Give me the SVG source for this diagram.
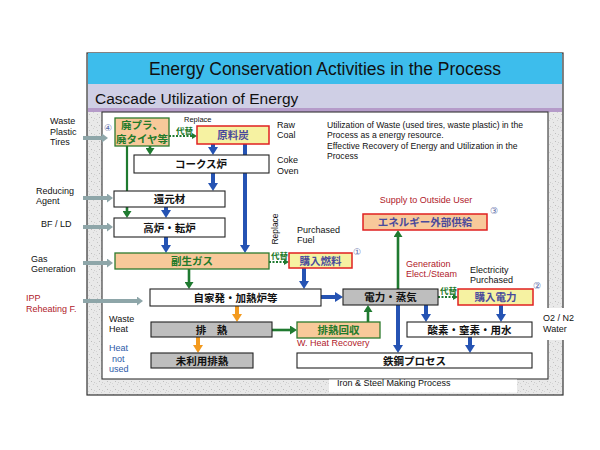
<svg xmlns="http://www.w3.org/2000/svg" width="600" height="450" viewBox="0 0 600 450">
<defs>
<pattern id="speckle" width="8" height="8" patternUnits="userSpaceOnUse"><rect width="8" height="8" fill="#e9e9e9"/><rect x="1" y="2" width="1" height="1" fill="#c4c4c4"/><rect x="5" y="0" width="1" height="1" fill="#d0d0d0"/><rect x="3" y="5" width="1" height="1" fill="#bdbdbd"/><rect x="6" y="6" width="1" height="1" fill="#cccccc"/><rect x="0" y="7" width="1" height="1" fill="#d5d5d5"/></pattern>
<marker id="mBlue" viewBox="0 0 8 10" refX="0" refY="5" markerWidth="8" markerHeight="10" markerUnits="userSpaceOnUse" orient="auto"><path d="M0,0 L8,5 L0,10 z" fill="#2553b3"/></marker>
<marker id="mGreen" viewBox="0 0 7 9" refX="0" refY="4.5" markerWidth="7" markerHeight="9" markerUnits="userSpaceOnUse" orient="auto"><path d="M0,0 L7,4.5 L0,9 z" fill="#1f7a30"/></marker>
<marker id="mOrange" viewBox="0 0 8 10" refX="0" refY="5" markerWidth="8" markerHeight="10" markerUnits="userSpaceOnUse" orient="auto"><path d="M0,0 L8,5 L0,10 z" fill="#f39a1e"/></marker>
<marker id="mDot" viewBox="0 0 5 6" refX="0" refY="3" markerWidth="5" markerHeight="6" markerUnits="userSpaceOnUse" orient="auto"><path d="M0,0 L5,3 L0,6 z" fill="#1f7a30"/></marker>
<marker id="mGray" viewBox="0 0 6 9" refX="0" refY="4.5" markerWidth="6" markerHeight="9" markerUnits="userSpaceOnUse" orient="auto"><path d="M0,0 L6,4.5 L0,9 z" fill="#8ea6a9"/></marker>
</defs>
<style>
.lat{font-family:"Liberation Sans",Arial,sans-serif;}
.jp{font-family:"Noto Sans CJK JP",sans-serif;font-weight:bold;font-size:10.5px;text-anchor:middle;}
.lbl{font-family:"Liberation Sans",Arial,sans-serif;font-size:9px;fill:#111;}
.red{fill:#b0202a;}
.blueT{fill:#2c5aa8;}
.num{font-family:"DejaVu Sans",sans-serif;font-size:9px;fill:#5a6aa8;}
.peach{fill:#f8c99a;stroke:#2d7a2d;stroke-width:1.3;}
.yellow{fill:#f6f2a2;stroke:#e02020;stroke-width:1.5;}
.white{fill:#fff;stroke:#222;stroke-width:1.1;}
.gray{fill:#bebebe;stroke:#222;stroke-width:1.1;}
.peachR{fill:#f8c99a;stroke:#e02020;stroke-width:1.5;}
.gT{fill:#237a2a;}
.pT{fill:#4a4a9c;}
.kT{fill:#111;}
.bl{stroke:#2553b3;stroke-width:4;fill:none;marker-end:url(#mBlue);}
.gr{stroke:#1f7a30;stroke-width:2.6;fill:none;marker-end:url(#mGreen);}
.grn{stroke:#1f7a30;stroke-width:2.2;fill:none;}
.or{stroke:#f39a1e;stroke-width:4;fill:none;marker-end:url(#mOrange);}
.dt{stroke:#1f7a30;stroke-width:2;stroke-dasharray:2 1.5;fill:none;marker-end:url(#mDot);}
.in{stroke:#8ea6a9;stroke-width:4;fill:none;marker-end:url(#mGray);}
.rep{font-family:"Noto Sans CJK JP",sans-serif;font-weight:bold;font-size:8.5px;fill:#237a2a;}
</style>

<!-- frame -->
<rect x="87" y="53" width="476" height="342" fill="url(#speckle)" stroke="#333" stroke-width="1.2"/>
<rect x="88" y="53" width="474" height="31" fill="#3dbdec"/>
<rect x="88" y="84" width="474" height="25" fill="#cfcfe5"/>
<rect x="88" y="108" width="474" height="4" fill="#b59bc9"/>
<rect x="102" y="112" width="446" height="267" fill="#fff" stroke="#333" stroke-width="1.1"/>
<rect x="329" y="379.6" width="188" height="13" fill="#fff"/>
<rect x="547" y="308" width="17" height="32" fill="#fff"/>
<text x="325" y="75" class="lat" font-size="17.5" text-anchor="middle" fill="#111">Energy Conservation Activities in the Process</text>
<text x="95" y="104" class="lat" font-size="15.5" fill="#111">Cascade Utilization of Energy</text>
<text x="337" y="386" class="lbl">Iron &amp; Steel Making Process</text>

<!-- connectors -->
<g id="connectors">
<path class="in" d="M83,138 H102"/>
<path class="in" d="M83,198 H107"/>
<path class="in" d="M83,227 H107"/>
<path class="in" d="M83,263 H107"/>
<path class="in" d="M83,301 H137"/>
<path class="bl" d="M245,144 V245"/>
<path class="bl" d="M213,144 V147"/>
<path class="bl" d="M213,173 V183"/>
<path class="bl" d="M166,207 V210"/>
<path class="bl" d="M166,237 V245"/>
<path class="bl" d="M304,268 V281"/>
<path class="bl" d="M321,297 H335"/>
<path class="bl" d="M426,305 V314"/>
<path class="bl" d="M501,305 V314"/>
<path class="bl" d="M470,337 V345"/>
<path class="bl" d="M398,305 V345"/>
<path class="gr" d="M150,146 V148"/>
<path class="grn" d="M127,146 V191"/>
<path class="gr" d="M127,207 V211"/>
<path class="gr" d="M189,269 V282"/>
<path class="gr" d="M272,330 H290"/>
<path class="gr" d="M368,322 V312"/>
<path class="gr" d="M398,289 V237"/>
<path class="or" d="M237,306 V314"/>
<path class="or" d="M198,337 V345"/>
<path class="dt" d="M169,136 H192"/>
<path class="dt" d="M269,262 H284"/>
<path class="dt" d="M438,297 H453"/>
<text x="184" y="122" class="lat" font-size="7.5" fill="#111">Replace</text>
<text x="176" y="134" class="rep">代替</text>
<text x="271" y="259" class="rep">代替</text>
<text x="440" y="294" class="rep">代替</text>
<text transform="translate(278,229) rotate(-90)" class="lat" font-size="8.5" text-anchor="middle" fill="#111">Replace</text>
</g>

<!-- side labels -->
<g id="labels">
<text class="lbl"><tspan x="50" y="124">Waste</tspan><tspan x="50" y="134.5">Plastic</tspan><tspan x="50" y="145">Tires</tspan></text>
<text class="lbl"><tspan x="36" y="194">Reducing</tspan><tspan x="36" y="204">Agent</tspan></text>
<text class="lbl" x="41" y="227">BF / LD</text>
<text class="lbl"><tspan x="31" y="262">Gas</tspan><tspan x="31" y="272">Generation</tspan></text>
<text class="lbl red"><tspan x="26" y="301">IPP</tspan><tspan x="26" y="312">Reheating F.</tspan></text>
<text class="lbl"><tspan x="277" y="128">Raw</tspan><tspan x="277" y="138">Coal</tspan></text>
<text class="lbl"><tspan x="277" y="163">Coke</tspan><tspan x="277" y="174">Oven</tspan></text>
<text class="lat" font-size="8.6" fill="#111"><tspan x="327" y="128">Utilization of Waste (used tires, waste plastic) in the</tspan><tspan x="327" y="138">Process as a energy resource.</tspan><tspan x="327" y="148.5">Effective Recovery of Energy and Utilization in the</tspan><tspan x="327" y="158.5">Process</tspan></text>
<text class="lbl red" x="426" y="203" text-anchor="middle">Supply to Outside User</text>
<text class="lbl"><tspan x="297" y="233">Purchased</tspan><tspan x="297" y="243">Fuel</tspan></text>
<text class="lbl red"><tspan x="406" y="267">Generation</tspan><tspan x="406" y="277">Elect./Steam</tspan></text>
<text class="lbl"><tspan x="470" y="273">Electricity</tspan><tspan x="470" y="283">Purchased</tspan></text>
<text class="lbl"><tspan x="543" y="321">O2 / N2</tspan><tspan x="543" y="332">Water</tspan></text>
<text class="lbl"><tspan x="109" y="322">Waste</tspan><tspan x="109" y="332">Heat</tspan></text>
<text class="lbl blueT"><tspan x="109" y="351">Heat</tspan><tspan x="112" y="362">not</tspan><tspan x="109" y="372">used</tspan></text>
<text class="lbl red" x="297" y="346">W. Heat Recovery</text>
<text class="num" x="104" y="131">④</text>
<text class="num" x="353" y="255">①</text>
<text class="num" x="490" y="214">③</text>
<text class="num" x="533" y="289">②</text>
</g>

<!-- nodes -->
<g id="n-waste-plastic"><rect class="peach" x="115" y="118" width="54" height="28"/><text class="jp gT" x="142" y="129" font-size="8.6">廃プラ、</text><text class="jp gT" x="142" y="143" font-size="8.6">廃タイヤ等</text></g>
<g id="n-coking-coal"><rect class="yellow" x="197" y="126" width="72" height="18"/><text class="jp pT" x="233" y="139">原料炭</text></g>
<g id="n-coke-oven"><rect class="white" x="134" y="155" width="135" height="18"/><text class="jp kT" x="201" y="168">コークス炉</text></g>
<g id="n-reducing-agent"><rect class="white" x="114" y="191" width="111" height="16"/><text class="jp kT" x="169.5" y="203">還元材</text></g>
<g id="n-bf-ld"><rect class="white" x="114" y="218" width="111" height="19"/><text class="jp kT" x="169.5" y="231.5">高炉・転炉</text></g>
<g id="n-byproduct-gas"><rect class="peach" x="115" y="253" width="154" height="16"/><text class="jp gT" x="192" y="265">副生ガス</text></g>
<g id="n-purchased-fuel"><rect class="yellow" x="289" y="253" width="63" height="15"/><text class="jp pT" x="320.5" y="264.5">購入燃料</text></g>
<g id="n-supply"><rect class="peachR" x="363" y="214" width="124" height="16"/><text class="jp pT" x="425" y="226">エネルギー外部供給</text></g>
<g id="n-power-plant"><rect class="white" x="150" y="289" width="171" height="17"/><text class="jp kT" x="235.5" y="301.5">自家発・加熱炉等</text></g>
<g id="n-power-steam"><rect class="gray" x="343" y="289" width="95" height="16"/><text class="jp kT" x="390.5" y="301">電力・蒸気</text></g>
<g id="n-purchased-elec"><rect class="yellow" x="458" y="289" width="75" height="16"/><text class="jp pT" x="495.5" y="301">購入電力</text></g>
<g id="n-waste-heat"><rect class="gray" x="151" y="322" width="121" height="15"/><text class="jp kT" x="211.5" y="333.5">排　熱</text></g>
<g id="n-heat-recovery"><rect class="peach" x="297" y="322" width="83" height="16"/><text class="jp gT" x="338.5" y="334">排熱回収</text></g>
<g id="n-o2"><rect class="white" x="407" y="322" width="125" height="15"/><text class="jp kT" x="469.5" y="333.5">酸素・窒素・用水</text></g>
<g id="n-unused-heat"><rect class="gray" x="151" y="353" width="102" height="15"/><text class="jp kT" x="202" y="364.5">未利用排熱</text></g>
<g id="n-steel"><rect class="white" x="297" y="353" width="235" height="15"/><text class="jp kT" x="414.5" y="364.5">鉄鋼プロセス</text></g>
</svg>
